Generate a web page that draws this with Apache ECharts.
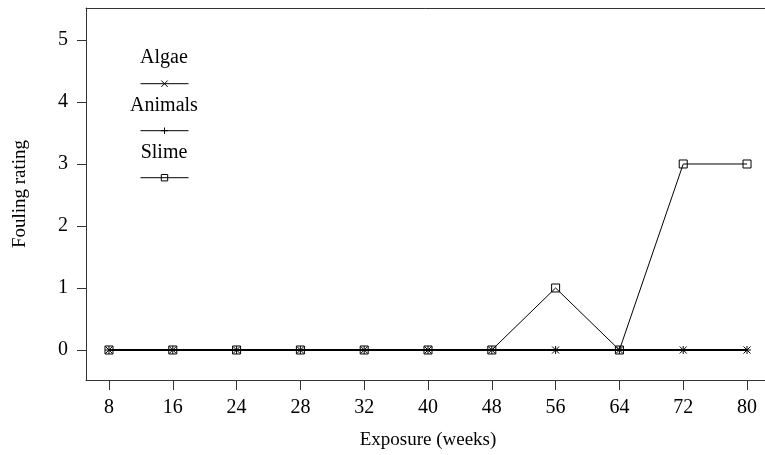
<!DOCTYPE html>
<html>
<head>
<meta charset="utf-8">
<script src="https://cdn.jsdelivr.net/npm/echarts@6/dist/echarts.min.js"></script>
<style>
  html, body { margin: 0; padding: 0; background: #fff; }
  #main { width: 765px; height: 455px; }
</style>
</head>
<body>
<div id="main"></div>
<script>
var weeks = ['8', '16', '24', '28', '32', '40', '48', '56', '64', '72', '80'];
var algae = [0, 0, 0, 0, 0, 0, 0, 0, 0, 0, 0];
var animals = [0, 0, 0, 0, 0, 0, 0, 0, 0, 0, 0];
var slime = [0, 0, 0, 0, 0, 0, 0, 1, 0, 3, 3];
var yTicks = [0, 1, 2, 3, 4, 5];

var FONT = 'Liberation Serif';
var crossPath = 'path://M0,0L10,10M10,0L0,10';
var plusPath = 'path://M5,0L5,10M0,5L10,5';

function pairs(arr) {
    return arr.map(function (v, i) { return [i, v]; });
}
var xIdx = weeks.map(function (w, i) { return i; });

// legend: text above a line sample
var legendRows = [['Algae', 58, 82], ['Animals', 106, 129], ['Slime', 153, 176]];

var myChart = echarts.init(document.getElementById('main'));
var option = {
    animation: false,
    backgroundColor: '#fff',
    textStyle: { fontFamily: FONT, color: '#000' },
    grid: {
        left: 86,
        right: -5,
        top: 8,
        bottom: 75,
        outerBoundsMode: 'none'
    },
    legend: legendRows.map(function (r) {
        return {
            data: [r[0]],
            left: 140,
            top: r[2] - 4,
            padding: 0,
            itemWidth: 48,
            itemHeight: 8,
            formatter: function () { return ''; },
            lineStyle: { width: 1 },
            itemStyle: { borderWidth: 1 },
            selectedMode: false
        };
    }),
    graphic: legendRows.map(function (r) {
        return {
            type: 'text',
            x: 164,
            y: r[1],
            style: {
                text: r[0],
                fontFamily: FONT,
                fontSize: 20,
                fill: '#000',
                align: 'center',
                verticalAlign: 'middle'
            }
        };
    }),
    xAxis: [{
        type: 'value',
        min: -0.36,
        max: 10.36,
        name: 'Exposure (weeks)',
        nameLocation: 'middle',
        nameGap: 51,
        nameTextStyle: { fontFamily: FONT, fontSize: 19, color: '#000' },
        axisLine: { show: true, onZero: false, lineStyle: { color: '#333', width: 1 } },
        axisTick: { show: true, length: 10, customValues: xIdx, lineStyle: { color: '#333' } },
        axisLabel: {
            customValues: xIdx,
            margin: 18,
            fontFamily: FONT,
            fontSize: 20,
            color: '#000',
            formatter: function (v) { return weeks[Math.round(v)]; }
        },
        splitLine: { show: false }
    }, {
        // top edge of the frame
        type: 'value',
        position: 'top',
        min: -0.36,
        max: 10.36,
        axisLine: { show: true, onZero: false, lineStyle: { color: '#333', width: 1 } },
        axisTick: { show: false },
        axisLabel: { show: false },
        splitLine: { show: false }
    }],
    yAxis: {
        type: 'value',
        min: -0.484,
        max: 5.516,
        name: 'Fouling rating',
        nameLocation: 'middle',
        nameGap: 56,
        nameTextStyle: { fontFamily: FONT, fontSize: 19, color: '#000' },
        axisLine: { show: true, onZero: false, lineStyle: { color: '#333', width: 1 } },
        axisTick: { show: true, length: 9, customValues: yTicks, lineStyle: { color: '#333' } },
        axisLabel: {
            customValues: yTicks,
            margin: 18,
            fontFamily: FONT,
            fontSize: 20,
            color: '#000'
        },
        splitLine: { show: false }
    },
    series: [
        {
            name: 'Algae',
            type: 'line',
            data: pairs(algae),
            symbol: crossPath,
            symbolSize: 7,
            showAllSymbol: true,
            itemStyle: { color: 'none', borderColor: '#000', borderWidth: 1 },
            lineStyle: { color: '#000', width: 2 }
        },
        {
            name: 'Animals',
            type: 'line',
            data: pairs(animals),
            symbol: plusPath,
            symbolSize: 8,
            showAllSymbol: true,
            itemStyle: { color: 'none', borderColor: '#000', borderWidth: 1 },
            lineStyle: { color: '#000', width: 1.5 }
        },
        {
            name: 'Slime',
            type: 'line',
            data: pairs(slime),
            symbol: 'rect',
            symbolSize: 8,
            showAllSymbol: true,
            itemStyle: { color: 'none', borderColor: '#000', borderWidth: 1 },
            lineStyle: { color: '#000', width: 1 }
        }
    ]
};
myChart.setOption(option);
</script>
</body>
</html>
